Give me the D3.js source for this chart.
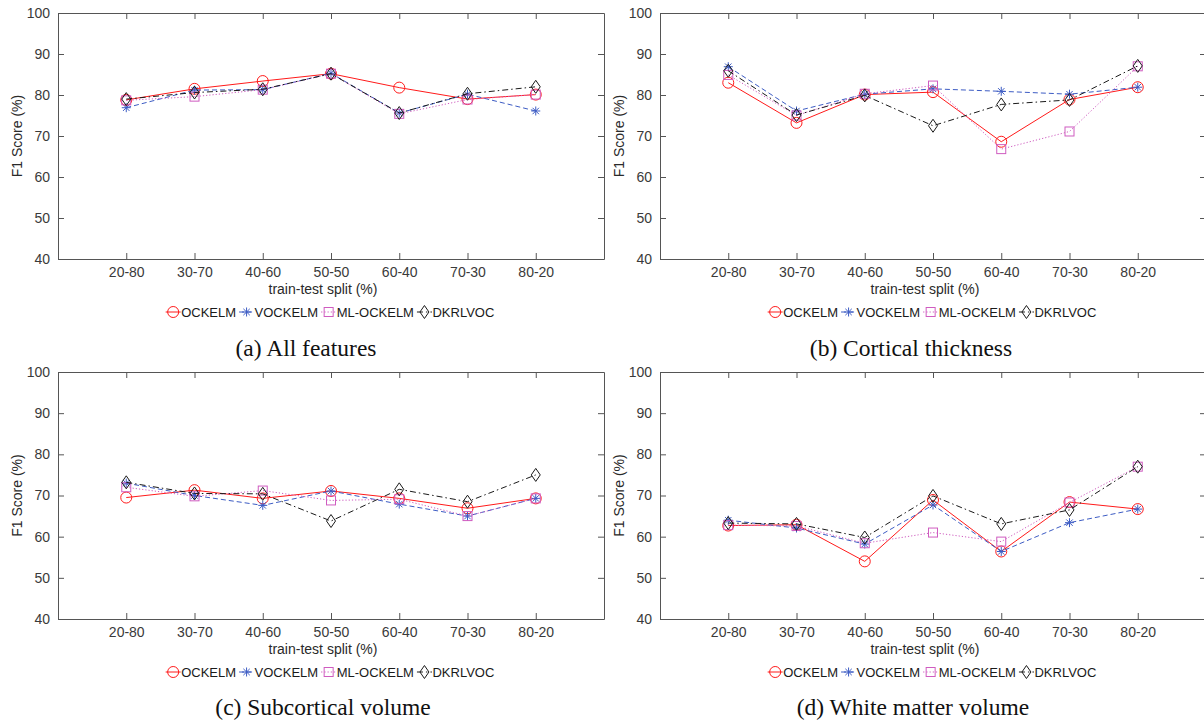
<!DOCTYPE html>
<html>
<head>
<meta charset="utf-8">
<script src="https://cdn.jsdelivr.net/npm/d3@7/dist/d3.min.js"></script>
<style>
  html, body { margin: 0; padding: 0; background: #fff; }
  svg { display: block; }
  .tick text { font-family: "Liberation Sans", Arial, Helvetica, sans-serif; font-size: 14px; fill: #3a3a3a; }
  .label { font-family: "Liberation Sans", Arial, Helvetica, sans-serif; font-size: 14px; fill: #2a2a2a; }
  .legend text { font-family: "Liberation Sans", Arial, Helvetica, sans-serif; font-size: 13px; fill: #1a1a1a; }
  .caption { font-family: "Liberation Serif", "Times New Roman", serif; font-size: 23.5px; fill: #111; }
</style>
</head>
<body>
<svg id="fig" width="1204" height="720"></svg>
<script>
// Train/test splits on the x axis
const splits = ["20-80", "30-70", "40-60", "50-50", "60-40", "70-30", "80-20"];
// Compared methods (legend order)
const methods = ["OCKELM", "VOCKELM", "ML-OCKELM", "DKRLVOC"];
// F1 score axis ticks
const yTicks = [40, 50, 60, 70, 80, 90, 100];

// F1 scores (%), one row per method in the order above
const allFeatures = [
  [78.8, 81.5, 83.4, 85.2, 81.8, 79.0, 80.1],
  [76.9, 81.2, 81.3, 85.3, 75.6, 80.2, 76.1],
  [78.7, 79.6, 81.3, 85.2, 75.4, 78.9, 80.1],
  [79.0, 80.6, 81.4, 85.2, 75.6, 80.3, 82.0]
];
const corticalThickness = [
  [83.0, 73.2, 80.1, 80.7, 68.6, 78.9, 81.9],
  [86.9, 76.1, 80.2, 81.5, 80.9, 80.2, 81.9],
  [84.9, 75.0, 80.3, 82.3, 66.8, 71.1, 87.0],
  [85.9, 75.1, 79.9, 72.5, 77.7, 78.8, 87.1]
];
const subcorticalVolume = [
  [69.5, 71.3, 69.3, 71.1, 69.3, 66.9, 69.3],
  [73.0, 70.0, 67.6, 71.1, 67.9, 65.0, 69.3],
  [72.0, 69.8, 71.2, 68.8, 69.1, 65.0, 69.3],
  [73.2, 70.5, 70.4, 63.8, 71.5, 68.5, 75.0]
];
const whiteMatterVolume = [
  [62.7, 62.9, 54.0, 68.9, 56.4, 68.4, 66.7],
  [64.0, 62.1, 58.2, 67.7, 56.4, 63.4, 66.7],
  [62.8, 62.6, 58.4, 61.0, 58.8, 68.3, 77.0],
  [63.3, 63.1, 59.8, 69.9, 63.1, 66.5, 77.0]
];
const captions = ["(a) All features", "(b) Cortical thickness", "(c) Subcortical volume", "(d) White matter volume"];

// Line/marker style per method
const styles = [
  { color: "#ff1a1a", dash: null, marker: "circle" },
  { color: "#3d5cc4", dash: "5,3", marker: "star" },
  { color: "#cf5cc0", dash: "1.2,2", marker: "square" },
  { color: "#1a1a1a", dash: "6,3,1.5,3", marker: "diamond" }
];

const svg = d3.select("#fig");
const axisColor = "#555";

function drawMarker(g, kind, color) {
  if (kind === "circle") {
    g.append("circle").attr("r", 5.5).attr("fill", "none").attr("stroke", color).attr("stroke-width", 1);
  } else if (kind === "square") {
    g.append("rect").attr("x", -4.5).attr("y", -4.5).attr("width", 9).attr("height", 9)
      .attr("fill", "none").attr("stroke", color).attr("stroke-width", 1);
  } else if (kind === "diamond") {
    g.append("path").attr("d", "M0,-6.5L4.5,0L0,6.5L-4.5,0Z")
      .attr("fill", "none").attr("stroke", color).attr("stroke-width", 1);
  } else if (kind === "star") {
    const a = 4.5, b = 3.2;
    g.append("path").attr("d", `M${-a},0L${a},0M0,${-a}L0,${a}M${-b},${-b}L${b},${b}M${-b},${b}L${b},${-b}`)
      .attr("fill", "none").attr("stroke", color).attr("stroke-width", 1);
  }
}

function drawPanel(data, left, top, bottom, caption, captionX, captionY) {
  const width = 546;
  const x = d3.scaleLinear().domain([0, 8]).range([left, left + width]);
  const y = d3.scaleLinear().domain([40, 100]).range([bottom, top]);
  const g = svg.append("g");

  // Box and inward ticks on all four sides
  const styleAxis = sel => {
    sel.selectAll("path.domain").attr("stroke", axisColor);
    sel.selectAll(".tick line").attr("stroke", axisColor);
  };
  g.append("g").attr("transform", `translate(0,${bottom})`)
    .call(d3.axisBottom(x).tickValues(d3.range(1, 8)).tickFormat(i => splits[i - 1])
      .tickSizeInner(-6).tickSizeOuter(0).tickPadding(8))
    .call(styleAxis);
  g.append("g").attr("transform", `translate(0,${top})`)
    .call(d3.axisTop(x).tickValues(d3.range(1, 8)).tickFormat("")
      .tickSizeInner(-6).tickSizeOuter(0))
    .call(styleAxis);
  g.append("g").attr("transform", `translate(${left},0)`)
    .call(d3.axisLeft(y).tickValues(yTicks).tickSizeInner(-6).tickSizeOuter(0).tickPadding(8))
    .call(styleAxis);
  g.append("g").attr("transform", `translate(${left + width},0)`)
    .call(d3.axisRight(y).tickValues(yTicks).tickFormat("").tickSizeInner(-6).tickSizeOuter(0))
    .call(styleAxis);
  g.selectAll(".tick text").attr("fill", "#3a3a3a");

  // Series lines and markers
  const line = d3.line().x((d, i) => x(i + 1)).y(d => y(d));
  data.forEach((vals, k) => {
    const s = styles[k];
    g.append("path").datum(vals).attr("d", line)
      .attr("fill", "none").attr("stroke", s.color).attr("stroke-width", 1)
      .attr("stroke-dasharray", s.dash);
    vals.forEach((v, i) => {
      const m = g.append("g").attr("transform", `translate(${x(i + 1)},${y(v)})`);
      drawMarker(m, s.marker, s.color);
    });
  });

  // Axis titles
  g.append("text").attr("class", "label").attr("text-anchor", "middle")
    .attr("x", left + 265).attr("y", bottom + 35).text("train-test split (%)");
  g.append("text").attr("class", "label").attr("text-anchor", "middle")
    .attr("transform", `translate(${left - 36},${(top + bottom) / 2}) rotate(-90)`)
    .text("F1 Score (%)");

  // Legend below the axis title
  const lg = g.append("g").attr("class", "legend");
  let cx = 0;
  methods.forEach((name, k) => {
    const s = styles[k];
    const item = lg.append("g").attr("transform", `translate(${cx},0)`);
    item.append("line").attr("x1", 0).attr("x2", 15).attr("y1", 0).attr("y2", 0)
      .attr("stroke", s.color).attr("stroke-width", 1).attr("stroke-dasharray", s.dash);
    drawMarker(item.append("g").attr("transform", "translate(7.5,0)"), s.marker, s.color);
    const t = item.append("text").attr("x", 15.5).attr("y", 4.6).text(name);
    cx += 15.5 + t.node().getComputedTextLength() + 3;
  });
  const total = cx - 3;
  lg.attr("transform", `translate(${left + 272 - total / 2},${bottom + 53})`);

  // Subfigure caption
  svg.append("text").attr("class", "caption").attr("text-anchor", "middle")
    .attr("x", captionX).attr("y", captionY).text(caption);
}

drawPanel(allFeatures, 58, 13, 259, captions[0], 306, 356);
drawPanel(corticalThickness, 660, 13, 259, captions[1], 911, 356);
drawPanel(subcorticalVolume, 58, 372, 619, captions[2], 323, 715);
drawPanel(whiteMatterVolume, 660, 372, 619, captions[3], 913, 715);
</script>
</body>
</html>
